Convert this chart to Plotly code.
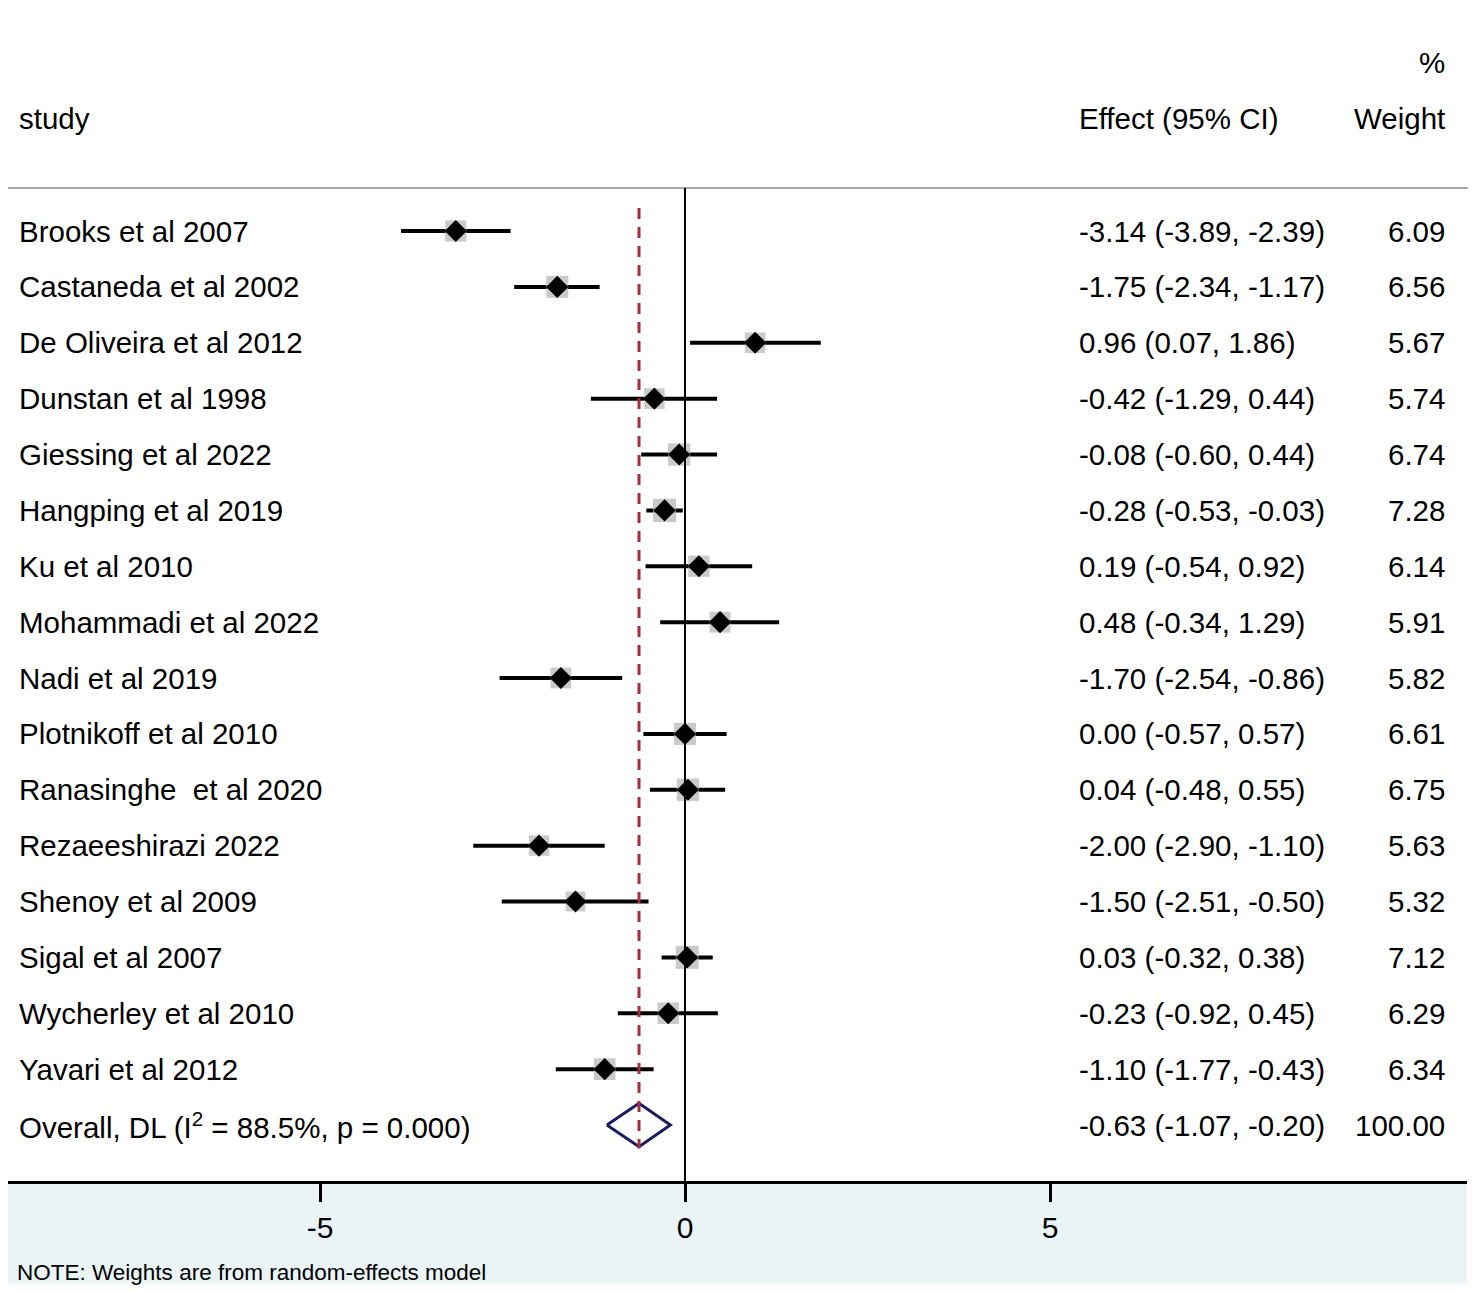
import plotly.graph_objects as go

studies = ["Brooks et al 2007", "Castaneda et al 2002", "De Oliveira et al 2012",
           "Dunstan et al 1998", "Giessing et al 2022", "Hangping et al 2019",
           "Ku et al 2010", "Mohammadi et al 2022", "Nadi et al 2019",
           "Plotnikoff et al 2010", "Ranasinghe  et al 2020", "Rezaeeshirazi 2022",
           "Shenoy et al 2009", "Sigal et al 2007", "Wycherley et al 2010",
           "Yavari et al 2012"]
effect = [-3.14, -1.75, 0.96, -0.42, -0.08, -0.28, 0.19, 0.48, -1.70, 0.00,
          0.04, -2.00, -1.50, 0.03, -0.23, -1.10]
lower = [-3.89, -2.34, 0.07, -1.29, -0.60, -0.53, -0.54, -0.34, -2.54, -0.57,
         -0.48, -2.90, -2.51, -0.32, -0.92, -1.77]
upper = [-2.39, -1.17, 1.86, 0.44, 0.44, -0.03, 0.92, 1.29, -0.86, 0.57,
         0.55, -1.10, -0.50, 0.38, 0.45, -0.43]
weight = [6.09, 6.56, 5.67, 5.74, 6.74, 7.28, 6.14, 5.91, 5.82, 6.61, 6.75,
          5.63, 5.32, 7.12, 6.29, 6.34]

overall_label = "Overall, DL (I<sup>2</sup> = 88.5%, p = 0.000)"
overall_effect, overall_lower, overall_upper, overall_weight = -0.63, -1.07, -0.20, 100.00

# page body has an 8px margin, so the figure is 8px smaller than the window
OFF = 8
W, H = 1476 - OFF, 1291 - OFF
ML, MR, MT, MB = 0, 9, 0, 110
PW, PH = W - ML - MR, H - MT - MB
FONT = "Liberation Sans, Arial, sans-serif"
FS = 29.5

ZERO_PX = 685      # screen x of effect 0
UNIT_PX = 73       # px per effect unit
ROW0_PX = 231      # screen y of first study
ROW_PX = 55.875    # row spacing


def px(xp):
    return (xp - OFF - ML) / PW


def py(yp):
    return 1 - (yp - OFF - MT) / PH


rows = list(range(len(studies)))
ov_row = len(studies)

fig = go.Figure()

# light band under the axis + faint frame on the right
fig.add_shape(type="rect", xref="paper", yref="paper", x0=px(8), x1=px(1467),
              y0=py(1282), y1=py(1181), fillcolor="#EAF4F6", line_width=0, layer="below")
fig.add_shape(type="line", xref="paper", yref="paper", x0=px(1469), x1=px(1469),
              y0=py(1283), y1=py(12), line=dict(color="#E3EEF2", width=1), layer="below")
fig.add_shape(type="line", xref="paper", yref="paper", x0=px(8), x1=px(1469),
              y0=py(1283), y1=py(1283), line=dict(color="#E3EEF2", width=1), layer="below")
# header separator
fig.add_shape(type="line", xref="paper", yref="paper", x0=px(8), x1=px(1468),
              y0=py(188), y1=py(188), line=dict(color="#A8A8A8", width=2))
# null line
fig.add_shape(type="line", xref="x", yref="paper", x0=0, x1=0,
              y0=0, y1=py(188), line=dict(color="black", width=2))
# overall effect line
fig.add_shape(type="line", xref="x", yref="y", x0=overall_effect, x1=overall_effect,
              y0=-0.41, y1=ov_row + 0.42,
              line=dict(color="#A3303C", width=3, dash="11px,8px"))

# confidence intervals
ci_x, ci_y = [], []
for r, lo, hi in zip(rows, lower, upper):
    ci_x += [lo, hi, None]
    ci_y += [r, r, None]
fig.add_trace(go.Scatter(x=ci_x, y=ci_y, mode="lines",
                         line=dict(color="black", width=4), hoverinfo="skip"))

# weight boxes
fig.add_trace(go.Scatter(x=effect, y=rows, mode="markers",
                         marker=dict(symbol="square", color="#B4B4B4",
                                     size=[8.6 * w ** 0.5 for w in weight], line_width=0),
                         hoverinfo="skip"))
# point estimates
fig.add_trace(go.Scatter(x=effect, y=rows, mode="markers",
                         marker=dict(symbol="diamond", color="black", size=17, line_width=0)))

# overall diamond
fig.add_trace(go.Scatter(x=[overall_lower, overall_effect, overall_upper, overall_effect, overall_lower],
                         y=[ov_row, ov_row - 0.39, ov_row, ov_row + 0.39, ov_row],
                         mode="lines", line=dict(color="#1B1B5E", width=3), hoverinfo="skip"))

# text columns
ann = dict(xref="paper", yref="y", showarrow=False, yanchor="middle",
           font=dict(family=FONT, size=FS, color="black"))
for r, s, e, lo, hi, w in zip(rows, studies, effect, lower, upper, weight):
    fig.add_annotation(x=px(17), y=r, text=s, xanchor="left", **ann)
    fig.add_annotation(x=px(1077), y=r, text=f"{e:.2f} ({lo:.2f}, {hi:.2f})", xanchor="left", **ann)
    fig.add_annotation(x=px(1447), y=r, text=f"{w:.2f}", xanchor="right", **ann)
fig.add_annotation(x=px(17), y=ov_row, text=overall_label, xanchor="left", **ann)
fig.add_annotation(x=px(1077), y=ov_row,
                   text=f"{overall_effect:.2f} ({overall_lower:.2f}, {overall_upper:.2f})",
                   xanchor="left", **ann)
fig.add_annotation(x=px(1447), y=ov_row, text=f"{overall_weight:.2f}", xanchor="right", **ann)

hdr = dict(xref="paper", yref="paper", showarrow=False, yanchor="middle",
           font=dict(family=FONT, size=FS, color="black"))
fig.add_annotation(x=px(17), y=py(119), text="study", xanchor="left", **hdr)
fig.add_annotation(x=px(1077), y=py(119), text="Effect (95% CI)", xanchor="left", **hdr)
fig.add_annotation(x=px(1447), y=py(119), text="Weight", xanchor="right", **hdr)
fig.add_annotation(x=px(1447), y=py(62), text="%", xanchor="right", **hdr)
fig.add_annotation(x=px(15), y=py(1272), text="NOTE: Weights are from random-effects model",
                   xref="paper", yref="paper", showarrow=False, xanchor="left", yanchor="middle",
                   font=dict(family=FONT, size=22.5, color="black"))

zero_fig = ZERO_PX - OFF - ML
x0 = -zero_fig / UNIT_PX
x1 = (PW - zero_fig) / UNIT_PX
row0_fig = ROW0_PX - OFF - MT
fig.update_layout(
    width=W, height=H, margin=dict(l=ML, r=MR, t=MT, b=MB),
    paper_bgcolor="white", plot_bgcolor="white", showlegend=False,
    xaxis=dict(range=[x0, x1], tickvals=[-5, 0, 5], ticktext=["-5", "0", "5"],
               showgrid=False, zeroline=False, showline=True, linecolor="black", linewidth=3,
               ticks="outside", ticklen=18, tickwidth=3, tickcolor="black",
               tickfont=dict(family=FONT, size=30, color="black")),
    yaxis=dict(range=[(PH - row0_fig) / ROW_PX, -row0_fig / ROW_PX],
               showgrid=False, zeroline=False, showticklabels=False, showline=False),
)

fig.write_html("out.html")
